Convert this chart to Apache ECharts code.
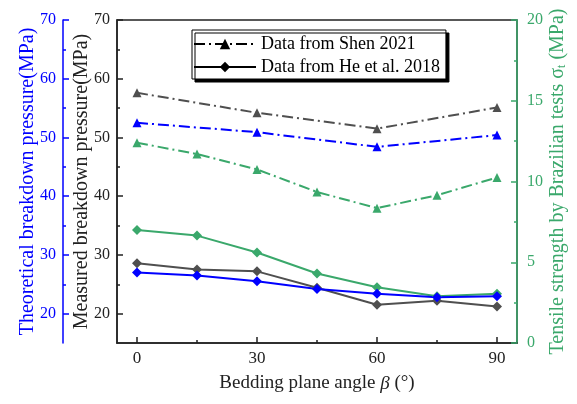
<!DOCTYPE html>
<html>
<head>
<meta charset="utf-8">
<script src="https://cdn.jsdelivr.net/npm/echarts@6/dist/echarts.min.js"></script>
<style>html,body{margin:0;padding:0;background:#fff;}#c{width:577px;height:404px;}</style>
</head>
<body>
<div id="c"></div>
<script>
// ---- data ----
const anglesAll = [0, 15, 30, 45, 60, 75, 90];
const anglesShen = [0, 30, 60, 90];
const shenMeasured = [57.6, 54.2, 51.5, 55.1];
const shenTheoretical = [52.5, 50.9, 48.4, 50.4];
const shenTensile = [12.4, 11.7, 10.75, 9.35, 8.35, 9.15, 10.25];
const heMeasured = [28.6, 27.5, 27.2, 24.4, 21.5, 22.2, 21.2];
const heTheoretical = [27.0, 26.5, 25.5, 24.2, 23.4, 22.8, 22.95];
const heTensile = [7.0, 6.65, 5.6, 4.3, 3.45, 2.9, 3.05];
const xTickLabels = [0, 30, 60, 90];
const xMinorTicks = [15, 45, 75];
const leftTickLabels = [20, 30, 40, 50, 60, 70];
const leftMinorTicks = [25, 35, 45, 55, 65];
const legendNames = ['Data from Shen 2021', 'Data from He et al. 2018'];

const FONT = "'Liberation Serif','Times New Roman',serif";
const GRAY = '#4f4f4f', BLUE = '#0000ff', GREEN = '#3aa86b';
const dashDot = [11, 4, 2, 4];

function pairs(xs, ys) { return xs.map((x, i) => [x, ys[i]]); }

function mainY(color, offset, name, gap) {
  return {
    type: 'value', position: 'left', offset: offset, min: 15, max: 70,
    name: name, nameLocation: 'middle', nameRotate: 90, nameGap: gap, nameMoveOverlap: false,
    nameTextStyle: { color: color, fontSize: 20, fontFamily: FONT },
    axisLine: { show: true, onZero: false, lineStyle: { color: color, width: 1.5 } },
    axisTick: { show: true, inside: true, length: 6, customValues: leftTickLabels, lineStyle: { color: color, width: 1.5 } },
    axisLabel: { customValues: leftTickLabels, color: color, fontSize: 16, fontFamily: FONT, margin: 7 },
    splitLine: { show: false }
  };
}
function minorY(color, offset) {
  return {
    type: 'value', position: 'left', offset: offset, min: 15, max: 70,
    axisLine: { show: false, onZero: false },
    axisTick: { show: true, inside: true, length: 3, customValues: leftMinorTicks, lineStyle: { color: color, width: 1.5 } },
    axisLabel: { show: false }, splitLine: { show: false }
  };
}

const chart = echarts.init(document.getElementById('c'), null, { renderer: 'canvas' });
chart.setOption({
  animation: false,
  backgroundColor: '#fff',
  grid: { left: 117, right: 60, top: 20, bottom: 61, show: true, borderColor: '#222', borderWidth: 1.5, backgroundColor: 'transparent' },
  legend: {
    data: legendNames, orient: 'vertical', left: 192, top: 30,
    itemWidth: 62, itemHeight: 13, itemGap: 5,
    padding: [5, 6, 3, 1],
    backgroundColor: '#fff', borderColor: '#000', borderWidth: 1,
    shadowColor: '#000', shadowOffsetX: 3, shadowOffsetY: 3, shadowBlur: 0,
    textStyle: { color: '#000', fontSize: 18, fontFamily: FONT },
    selectedMode: false
  },
  xAxis: [
    {
      type: 'value', min: -5, max: 95,
      name: 'Bedding plane angle {i|β} (°)', nameLocation: 'middle', nameGap: 31, nameMoveOverlap: false,
      nameTextStyle: { color: '#222', fontSize: 19, fontFamily: FONT, rich: { i: { fontStyle: 'italic', fontSize: 19, fontFamily: FONT, color: '#222' } } },
      axisLine: { show: true, onZero: false, lineStyle: { color: '#222', width: 1.5 } },
      axisTick: { show: true, inside: true, length: 6, customValues: xTickLabels, lineStyle: { color: '#222', width: 1.5 } },
      axisLabel: { customValues: xTickLabels, color: '#222', fontSize: 17, fontFamily: FONT, margin: 7 },
      splitLine: { show: false }
    },
    {
      type: 'value', min: -5, max: 95, position: 'bottom',
      axisLine: { show: false, onZero: false },
      axisTick: { show: true, inside: true, length: 3, customValues: xMinorTicks, lineStyle: { color: '#222', width: 1.5 } },
      axisLabel: { show: false }, splitLine: { show: false }
    }
  ],
  yAxis: [
    mainY('#222', 0, 'Measured breakdown pressure(MPa)', 25),
    minorY('#222', 0),
    mainY(BLUE, 54, 'Theoretical breakdown pressure(MPa)', 25),
    minorY(BLUE, 54),
    {
      type: 'value', position: 'right', offset: 0, min: 0, max: 20, interval: 5,
      name: 'Tensile strength by Brazilian tests σ{s|t} (MPa)', nameLocation: 'middle', nameRotate: 90, nameGap: 31, nameMoveOverlap: false,
      nameTextStyle: { color: GREEN, fontSize: 20, fontFamily: FONT, rich: { s: { fontSize: 12, fontFamily: FONT, color: GREEN, verticalAlign: 'bottom', padding: [8, 0, 0, 0] } } },
      axisLine: { show: true, onZero: false, lineStyle: { color: GREEN, width: 1.5 } },
      axisTick: { show: true, inside: true, length: 6, lineStyle: { color: GREEN, width: 1.5 } },
      minorTick: { show: true, splitNumber: 2, length: 3, lineStyle: { color: GREEN, width: 1.5 } },
      axisLabel: { color: GREEN, fontSize: 16, fontFamily: FONT, margin: 10 },
      splitLine: { show: false }
    }
  ],
  series: [
    { name: legendNames[0], type: 'line', data: [], symbol: 'triangle', symbolSize: 9, itemStyle: { color: '#000' }, lineStyle: { color: '#000', width: 2, type: dashDot } },
    { name: legendNames[1], type: 'line', data: [], symbol: 'diamond', symbolSize: 9, itemStyle: { color: '#000' }, lineStyle: { color: '#000', width: 2, type: 'solid' } },
    { name: 'shenMeasured', type: 'line', yAxisIndex: 0, data: pairs(anglesShen, shenMeasured), symbol: 'triangle', symbolSize: 9, itemStyle: { color: GRAY }, lineStyle: { color: GRAY, width: 2, type: dashDot } },
    { name: 'shenTheoretical', type: 'line', yAxisIndex: 2, data: pairs(anglesShen, shenTheoretical), symbol: 'triangle', symbolSize: 9, itemStyle: { color: BLUE }, lineStyle: { color: BLUE, width: 2, type: dashDot } },
    { name: 'shenTensile', type: 'line', yAxisIndex: 4, data: pairs(anglesAll, shenTensile), symbol: 'triangle', symbolSize: 9, itemStyle: { color: GREEN }, lineStyle: { color: GREEN, width: 2, type: dashDot } },
    { name: 'heMeasured', type: 'line', yAxisIndex: 0, data: pairs(anglesAll, heMeasured), symbol: 'diamond', symbolSize: 10, itemStyle: { color: GRAY }, lineStyle: { color: GRAY, width: 2 } },
    { name: 'heTensile', type: 'line', yAxisIndex: 4, data: pairs(anglesAll, heTensile), symbol: 'diamond', symbolSize: 10, itemStyle: { color: GREEN }, lineStyle: { color: GREEN, width: 2 } },
    { name: 'heTheoretical', type: 'line', yAxisIndex: 2, data: pairs(anglesAll, heTheoretical), symbol: 'diamond', symbolSize: 10, itemStyle: { color: BLUE }, lineStyle: { color: BLUE, width: 2 } }
  ]
});
</script>
</body>
</html>
